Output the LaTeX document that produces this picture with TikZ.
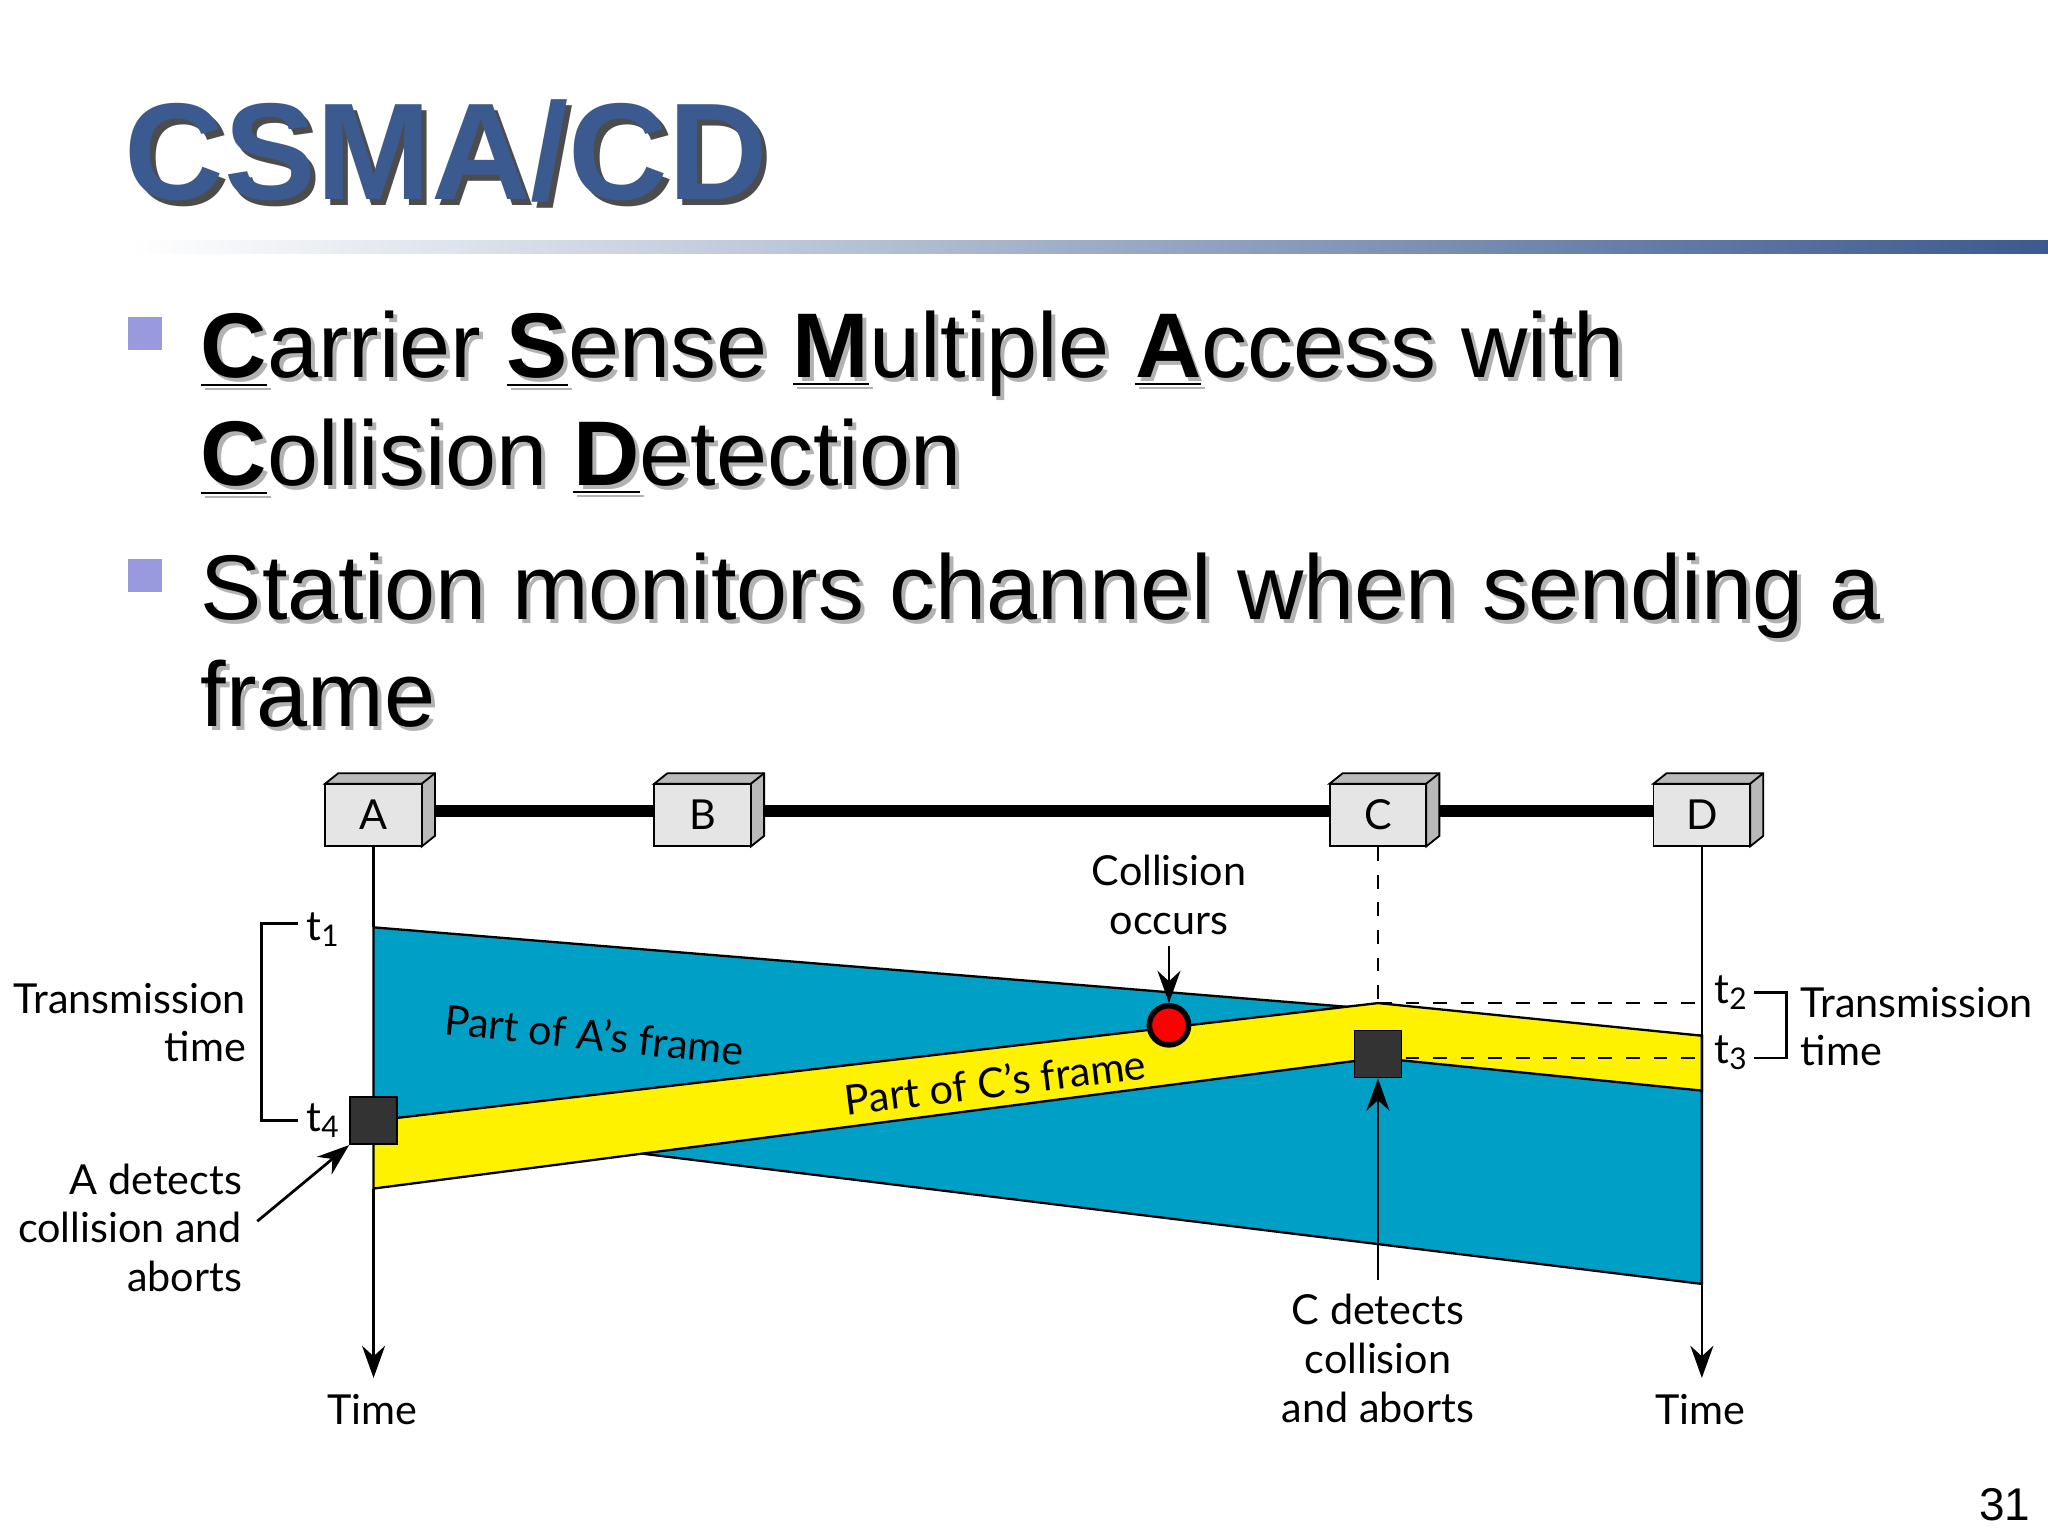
\documentclass[tikz,border=0pt]{standalone}
\usepackage{fontspec}
\setmainfont{Liberation Sans}
\newfontfamily\lab{Lato}
\usetikzlibrary{arrows.meta,calc}
\definecolor{ttl}{HTML}{3B5A8F}
\definecolor{bul}{HTML}{9999DD}
\definecolor{cyanf}{HTML}{00A0C6}
\tikzset{
 stn/.style={draw,fill=gray!20,minimum width=0.74cm,minimum height=0.48cm,inner sep=0pt,font=\lab\fontsize{9}{11}\selectfont},
 lbl/.style={font=\lab\fontsize{9}{10.6}\selectfont,inner sep=0pt},
 arr/.style={-{Stealth[length=7pt,width=5pt]}},
}
\newcommand{\ul}[1]{\underline{\textbf{#1}}}
\newcommand{\sbs}[1]{\raisebox{-0.3ex}{\fontsize{6.5}{7}\selectfont #1}}
\newcommand{\shtext}[3]{\node[anchor=base west,inner sep=0pt,text=gray!60] at ($(#1)+(3,3)$) {#3};\node[anchor=base west,inner sep=0pt,#2] at (#1) {#3};}
\begin{document}
\begin{tikzpicture}[x=0.01cm,y=-0.01cm]
\useasboundingbox (0,0) rectangle (1568,1176);
\fill[white] (0,0) rectangle (1568,1176);
% title
\node[anchor=base west,inner sep=0pt,text=black!70,font=\fontsize{30}{36}\selectfont\bfseries] at (99,157) {CSMA/CD};
\node[anchor=base west,inner sep=0pt,text=ttl,font=\fontsize{30}{36}\selectfont\bfseries] at (95,153) {CSMA/CD};
\shade[left color=white,right color=ttl] (100,184) rectangle (1568,194);
% bullets
\fill[bul] (98,243) rectangle (124,268);
\fill[bul] (98,428) rectangle (124,453);
\begin{scope}[font=\fontsize{20}{24}\selectfont]
\shtext{153,289}{}{\ul{C}arrier \ul{S}ense \ul{M}ultiple \ul{A}ccess with}
\shtext{153,372}{}{\ul{C}ollision \ul{D}etection}
\shtext{153,474}{}{Station monitors channel when sending a}
\shtext{153,556}{}{frame}
\end{scope}
% diagram
\coordinate (aT) at (286,1055);
\coordinate (dT) at (1303,1055);
\draw[line width=2.5pt] (286,621) -- (1303,621);
\foreach \n/\x/\t in {A/286/A,B/538/B,C/1055/C,D/1303/D}{
 \fill[gray!55,draw=black,line width=0.4pt] (\x-37,600) -- (\x-27,592) -- (\x+47,592) -- (\x+47,640) -- (\x+37,648) -- (\x+37,600) -- cycle;
 \draw[line width=0.4pt] (\x+37,600) -- (\x+47,592);
 \node[stn] (\n) at (\x,624) {\t};
}
% regions
\fill[cyanf,draw=black,line width=0.5pt] (286,710) -- (1303,793) -- (1303,983) -- (286,858) -- cycle;
\fill[yellow,draw=black,line width=0.5pt] (286,858) -- (1055,768) -- (1303,793) -- (1303,835) -- (1055,810) -- (286,910) -- cycle;
\draw[line width=0.6pt] (A.south) -- (286,710);
\draw[arr,line width=0.6pt] (286,910) -- (aT);
\draw[line width=0.6pt] (D.south) -- (1303,793);
\draw[arr,line width=0.6pt] (1303,983) -- (dT);
\draw[dashed,line width=0.6pt] (C.south) -- (1055,768);
\draw[dashed,line width=0.6pt] (1055,768) -- (1303,768);
\draw[dashed,line width=0.6pt] (1055,810) -- (1303,810);
\node[lbl,rotate=-6] at (455,792) {Part of A’s frame};
\node[lbl,rotate=7] at (762,828) {Part of C’s frame};
\node[fill=black!80,draw=black,minimum size=0.36cm,inner sep=0pt] (sa) at (286,858) {};
\node[fill=black!80,draw=black,minimum size=0.36cm,inner sep=0pt] (sc) at (1055,807) {};
\node[circle,fill=red,draw=black,line width=1.2pt,minimum size=0.3cm,inner sep=0pt] (col) at (895,785) {};
\node[lbl,align=center] (ct) at (895,685) {Collision\\occurs};
\draw[arr,line width=0.6pt] (895,724) -- (col.north);
\node[lbl,align=center] (cd) at (1055,1040) {C detects\\collision\\and aborts};
\draw[arr,line width=0.6pt] (1055,980) -- (sc.south);
\node[lbl,align=right,anchor=east] (ad) at (186,940) {A detects\\collision and\\aborts};
\draw[arr,line width=0.6pt] (197,935) -- (sa.south west);
\node[lbl,align=right,anchor=east] at (189,783) {Transmission\\time};
\node[lbl,align=left,anchor=west] at (1378,786) {Transmission\\time};
\node[lbl] at (247,712) {t\sbs{1}};
\node[lbl] at (247,858) {t\sbs{4}};
\node[lbl] at (1325,760) {t\sbs{2}};
\node[lbl] at (1325,806) {t\sbs{3}};
\draw[line width=0.6pt] (228,707) -- (200,707) -- (200,858) -- (228,858);
\draw[line width=0.6pt] (1343,760) -- (1368,760) -- (1368,810) -- (1343,810);
\node[lbl] (ta) at (285,1079) {Time};
\node[lbl] (td) at (1302,1079) {Time};
\node[font=\fontsize{10}{12}\selectfont,inner sep=0pt] at (1535,1152) {31};
\end{tikzpicture}
\end{document}
